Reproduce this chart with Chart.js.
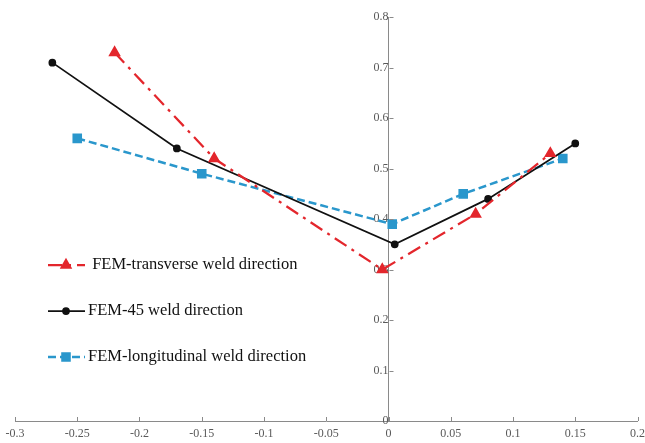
<!DOCTYPE html>
<html>
<head>
<meta charset="utf-8">
<script src="https://cdn.jsdelivr.net/npm/chart.js@4.4.1/dist/chart.umd.min.js"></script>
<style>
  body { margin: 0; background: #fff; }
  canvas { display: block; }
</style>
</head>
<body>
<canvas id="chart" width="645" height="443"></canvas>
<script>
  // data
  const seriesNames = [' FEM-transverse weld direction', 'FEM-45 weld direction', 'FEM-longitudinal weld direction'];
  const transX = [-0.22, -0.14, -0.005, 0.07, 0.13];
  const transY = [0.73, 0.52, 0.30, 0.41, 0.53];
  const deg45X = [-0.27, -0.17, 0.005, 0.08, 0.15];
  const deg45Y = [0.71, 0.54, 0.35, 0.44, 0.55];
  const longX = [-0.25, -0.15, 0.003, 0.06, 0.14];
  const longY = [0.56, 0.49, 0.39, 0.45, 0.52];
  const xTicks = [-0.3, -0.25, -0.2, -0.15, -0.1, -0.05, 0, 0.05, 0.1, 0.15, 0.2];
  const yTicks = [0, 0.1, 0.2, 0.3, 0.4, 0.5, 0.6, 0.7, 0.8];

  const axisColor = '#8a8a8a';
  const labelColor = '#595959';
  const serif = '"Liberation Serif", "Times New Roman", serif';

  function pts(xs, ys) {
    return xs.map((x, i) => ({ x: x, y: ys[i] }));
  }
  function fmt(v) {
    return String(parseFloat(Number(v).toFixed(2)));
  }

  // inward tick marks + legend at the left
  const extras = {
    id: 'extras',
    afterDraw(chart) {
      const ctx = chart.ctx;
      const xs = chart.scales.x, ys = chart.scales.y;
      const x0 = Math.round(xs.getPixelForValue(0)) + 0.5;
      const yb = chart.chartArea.bottom;
      ctx.save();
      ctx.strokeStyle = axisColor;
      ctx.lineWidth = 1;
      ctx.beginPath();
      xTicks.forEach(v => {
        const px = Math.round(xs.getPixelForValue(v)) + 0.5;
        ctx.moveTo(px, yb);
        ctx.lineTo(px, yb - 4);
      });
      yTicks.forEach(v => {
        const py = Math.round(ys.getPixelForValue(v)) + 0.5;
        ctx.moveTo(x0, py);
        ctx.lineTo(x0 + 4, py);
      });
      ctx.stroke();

      const rows = [265, 311, 357];
      const textX = [88, 88, 88];
      chart.data.datasets.forEach((ds, i) => {
        const y = rows[i];
        ctx.save();
        ctx.strokeStyle = ds.borderColor;
        ctx.lineWidth = ds.borderWidth;
        ctx.setLineDash(ds.borderDash || []);
        ctx.beginPath();
        ctx.moveTo(48, y);
        ctx.lineTo(85, y);
        ctx.stroke();
        ctx.setLineDash([]);
        ctx.fillStyle = ds.pointBackgroundColor;
        ctx.strokeStyle = ds.pointBorderColor;
        Chart.helpers.drawPoint(ctx, {
          pointStyle: ds.pointStyle,
          radius: ds.pointRadius,
          rotation: 0,
          borderWidth: 1
        }, 66, y);
        ctx.restore();
        ctx.fillStyle = '#111';
        ctx.font = '16.5px ' + serif;
        ctx.textBaseline = 'middle';
        ctx.textAlign = 'left';
        ctx.fillText(seriesNames[i], textX[i], y);
      });
      ctx.restore();
    }
  };

  new Chart(document.getElementById('chart'), {
    type: 'scatter',
    data: {
      datasets: [{
        label: seriesNames[0],
        data: pts(transX, transY),
        showLine: true,
        borderColor: '#e3262c',
        borderWidth: 2.25,
        borderDash: [14, 6, 3, 6],
        pointStyle: 'triangle',
        pointRadius: 5,
        pointBackgroundColor: '#e3262c',
        pointBorderColor: '#e3262c'
      }, {
        label: seriesNames[1],
        data: pts(deg45X, deg45Y),
        showLine: true,
        borderColor: '#111111',
        borderWidth: 1.75,
        pointStyle: 'circle',
        pointRadius: 3,
        pointBackgroundColor: '#111111',
        pointBorderColor: '#111111'
      }, {
        label: seriesNames[2],
        data: pts(longX, longY),
        showLine: true,
        borderColor: '#2a97cc',
        borderWidth: 2.5,
        borderDash: [8, 4],
        pointStyle: 'rect',
        pointRadius: 5,
        pointBackgroundColor: '#2a97cc',
        pointBorderColor: '#2a97cc'
      }]
    },
    options: {
      responsive: false,
      animation: false,
      layout: { padding: { left: 15, right: 7, top: 14, bottom: 0 } },
      plugins: {
        legend: { display: false },
        tooltip: { enabled: false }
      },
      scales: {
        x: {
          type: 'linear',
          position: 'bottom',
          min: -0.3,
          max: 0.2,
          afterBuildTicks: (s) => { s.ticks = xTicks.map(v => ({ value: v })); },
          afterFit: (s) => { s.height = 22; s.paddingLeft = 0; s.paddingRight = 0; },
          grid: { display: true, drawOnChartArea: false, drawTicks: false },
          border: { display: true, color: axisColor, width: 1 },
          ticks: {
            padding: 6,
            color: labelColor,
            font: { family: serif, size: 12 },
            maxRotation: 0,
            callback: (v) => fmt(v)
          }
        },
        y: {
          type: 'linear',
          position: { x: 0 },
          min: 0,
          max: 0.8,
          afterBuildTicks: (s) => { s.ticks = yTicks.map(v => ({ value: v })); },
          grid: { display: true, drawOnChartArea: false, drawTicks: false },
          border: { display: true, color: axisColor, width: 1 },
          ticks: {
            padding: 10,
            color: labelColor,
            font: { family: serif, size: 12 },
            callback: (v) => fmt(v)
          }
        }
      }
    },
    plugins: [extras]
  });
</script>
</body>
</html>
